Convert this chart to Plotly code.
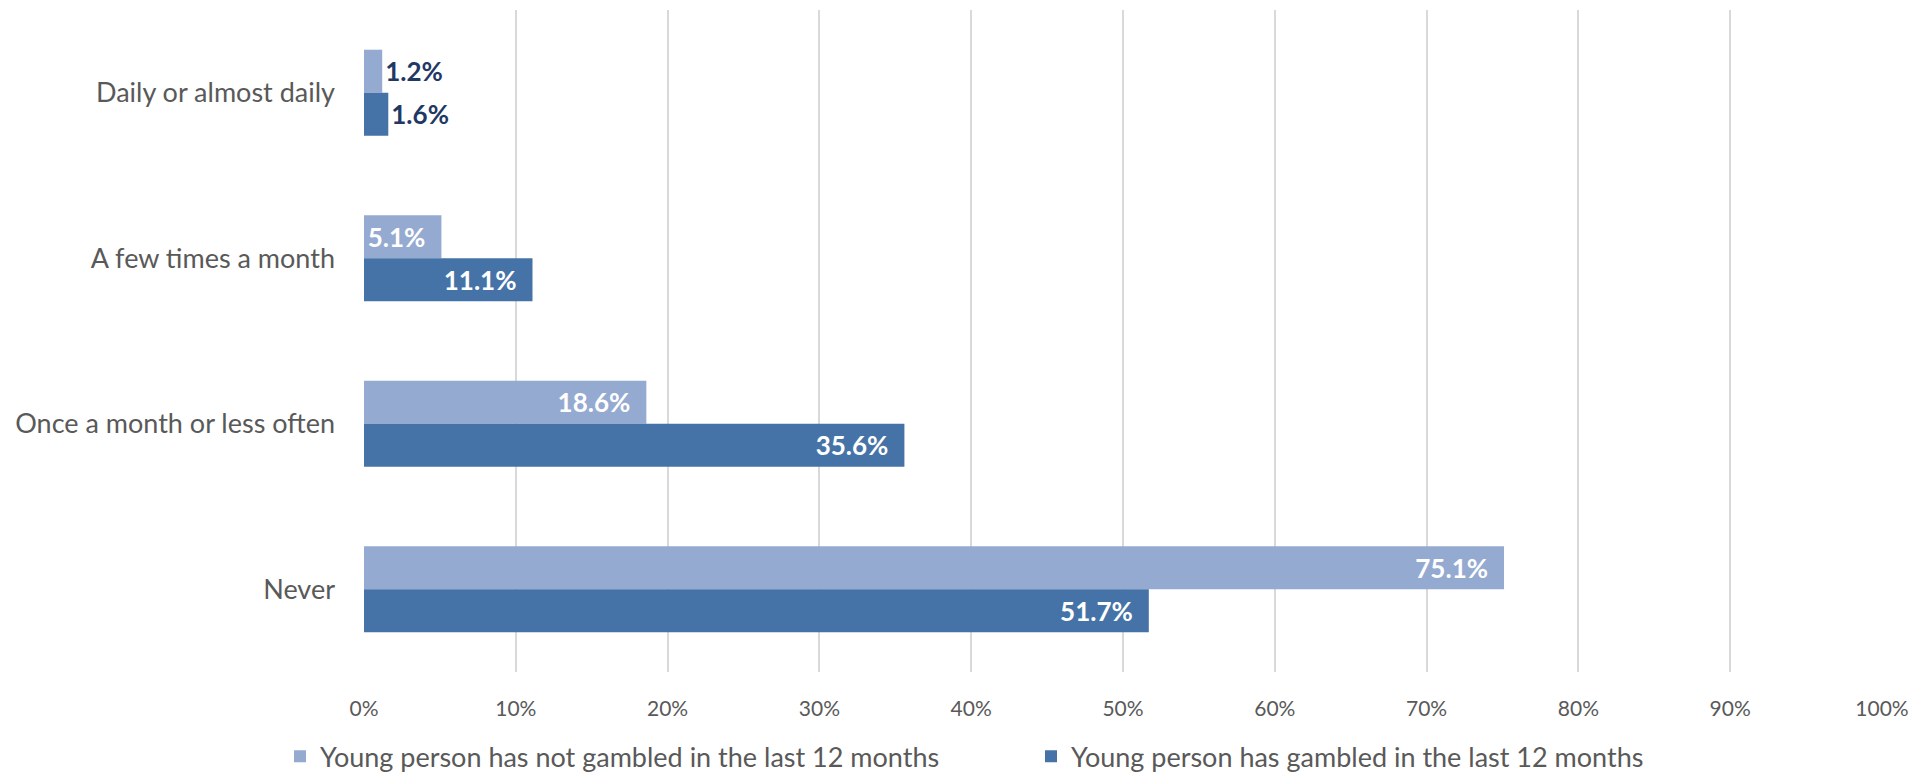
import plotly.graph_objects as go

categories = ["Daily or almost daily", "A few times a month", "Once a month or less often", "Never"]
not_gambled = [1.2, 5.1, 18.6, 75.1]
gambled = [1.6, 11.1, 35.6, 51.7]
series_names = ["Young person has not gambled in the last 12 months",
                "Young person has gambled in the last 12 months"]
tick_vals = [0, 10, 20, 30, 40, 50, 60, 70, 80, 90, 100]
tick_text = ["0%", "10%", "20%", "30%", "40%", "50%", "60%", "70%", "80%", "90%", "100%"]

light = "#95AAD1"
dark = "#4673A7"
navy = "#1F3864"
font_family = "Lato, 'Open Sans', sans-serif"

def positions(vals):
    return ["outside" if v < 3 else "inside" for v in vals]

def labels(vals):
    # inside labels get a little right padding like the original
    return [f"{v:.1f}%" if v < 3 else f"{v:.1f}%\u2002" for v in vals]

fig = go.Figure()
for name, vals, col in [(series_names[0], not_gambled, light), (series_names[1], gambled, dark)]:
    fig.add_trace(go.Bar(
        y=categories, x=vals, name=name, orientation="h",
        marker=dict(color=col, line=dict(width=0)),
        text=labels(vals),
        textposition=positions(vals),
        insidetextanchor="end",
        insidetextfont=dict(color="white", size=26, family=font_family, weight="bold"),
        outsidetextfont=dict(color=navy, size=26, family=font_family, weight="bold"),
        cliponaxis=False,
    ))

fig.update_layout(
    width=1906, height=766,
    barmode="group", bargap=0.48, bargroupgap=0,
    paper_bgcolor="white", plot_bgcolor="white",
    margin=dict(l=356, r=32, t=2, b=102, autoexpand=False),
    font=dict(family=font_family, color="#595959"),
    xaxis=dict(range=[0, 100], tickvals=tick_vals, ticktext=tick_text,
               showgrid=True, gridcolor="#D9D9D9", gridwidth=1.5,
               zeroline=False, showline=False,
               tickfont=dict(size=21, color="#595959"), ticks="", ticklabelstandoff=22),
    yaxis=dict(categoryorder="array", categoryarray=categories, autorange="reversed",
               showgrid=False, zeroline=False, showline=False,
               tickfont=dict(size=27, color="#595959"), ticks="", ticklabelstandoff=28),
    legend=dict(orientation="h", xref="container", yref="paper",
                x=272 / 1906, xanchor="left", y=-0.128, yanchor="middle",
                font=dict(size=27, color="#595959"), entrywidth=706,
                traceorder="normal"),
    showlegend=True,
)

fig.write_html("out.html")
